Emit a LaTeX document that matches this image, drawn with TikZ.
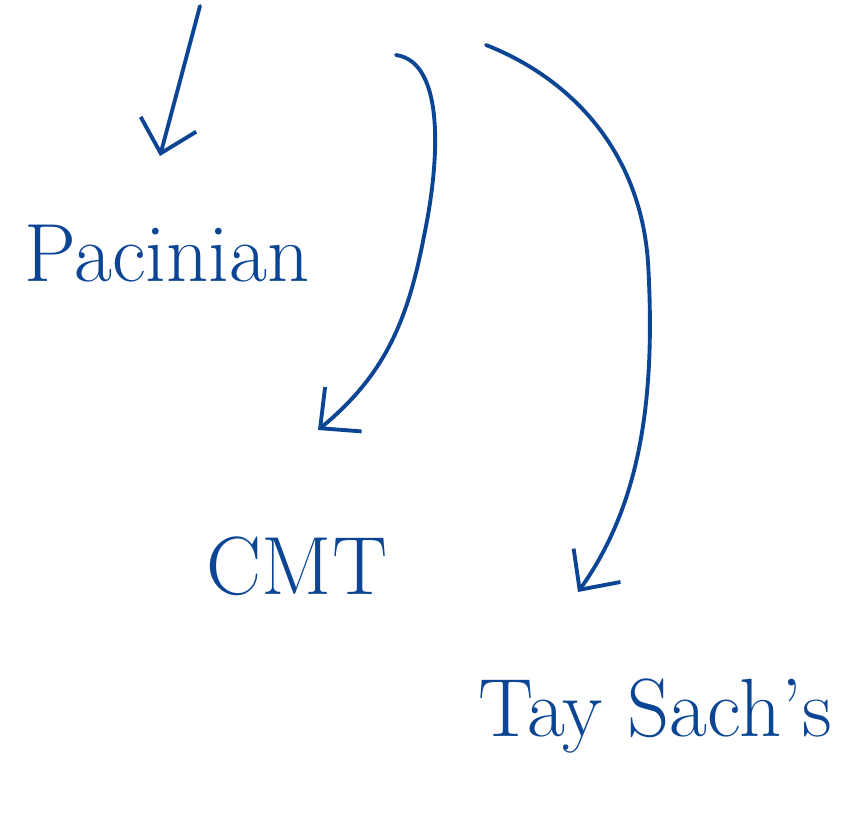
\documentclass[tikz,border=0pt]{standalone}
\usetikzlibrary{arrows.meta, positioning, calc}
\definecolor{ink}{HTML}{0B4594}

\begin{document}
\begin{tikzpicture}[x=0.02cm, y=-0.02cm, line width=2.2pt, color=ink,
    line cap=round, line join=round,
    >={Straight Barb[length=0.6cm, width=1.15cm, line width=2.2pt]},
    word/.style={inner sep=0pt, text=ink, font=\fontsize{47}{56}\selectfont}]
  \useasboundingbox (0,0) rectangle (841,829);

  \node[word] (pacinian) at (167,254) {Pacinian};
  \node[word] (cmt) at (297,566) {CMT};
  \node[word] (taysachs) at (655,716) {Tay Sach's};

  \coordinate (a1) at (200,6);
  \coordinate (b1) at (160,156);
  \coordinate (a2) at (396,55);
  \coordinate (b2) at (318,430);
  \coordinate (a3) at (486,45);
  \coordinate (b3) at (578,592);

  \draw[->] (a1) -- (b1);
  \draw[->] (a2) .. controls (445,62) and (440,160) .. (424,236)
                 .. controls (408,320) and (385,375) .. (b2);
  \draw[->] (a3) .. controls (570,78) and (640,150) .. (648,262)
                 .. controls (656,400) and (640,505) .. (b3);
\end{tikzpicture}
\end{document}
